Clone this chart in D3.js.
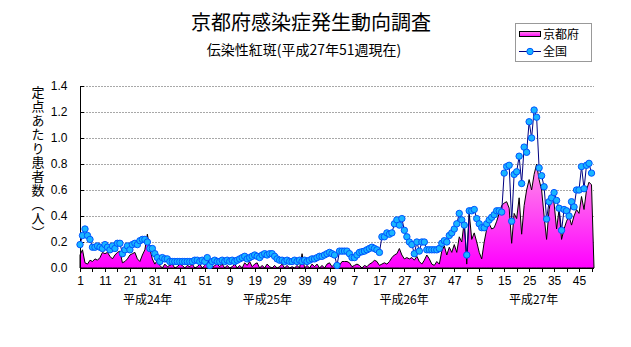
<!DOCTYPE html>
<html><head><meta charset="utf-8">
<script src="https://cdn.jsdelivr.net/npm/d3@7/dist/d3.min.js"></script>
<style>
html,body{margin:0;padding:0;background:#fff;}
svg{display:block;}
.jp{font-family:"Noto Sans CJK JP","Noto Sans",sans-serif;}
.num{font-family:"Liberation Sans Narrow","Liberation Sans",Arial,sans-serif;}
</style></head>
<body>
<script>
// ---- data ----
const yearLabels = ["平成24年","平成25年","平成26年","平成27年"];
const weeksPerYear = [52,52,52,51];
const tickLabels = ["1","11","21","31","41","51","9","19","29","39","49","7","17","27","37","47","5","15","25","35","45"];
const yTicks = [0.0,0.2,0.4,0.6,0.8,1.0,1.2,1.4];

const kyoto2012 = [0.10,0.14,0.04,0.03,0.06,0.05,0.07,0.06,0.08,0.12,0.11,0.12,0.09,0.07,0.10,0.12,0.13,0.04,0.05,0.07,0.10,0.11,0.12,0.07,0.05,0.10,0.14,0.26,0.15,0.07,0.03,0.06,0.02,0.00,0.03,0.01,0.02,0.03,0.00,0.01,0.03,0.02,0.00,0.02,0.01,0.03,0.00,0.01,0.03,0.00,0.02,0.04];
const kyoto2013 = [0.04,0.00,0.02,0.03,0.01,0.03,0.00,0.02,0.00,0.01,0.03,0.00,0.02,0.00,0.04,0.02,0.05,0.01,0.03,0.04,0.00,0.02,0.00,0.03,0.01,0.00,0.02,0.00,0.01,0.03,0.00,0.02,0.00,0.01,0.00,0.02,0.00,0.11,0.00,0.02,0.00,0.03,0.01,0.03,0.00,0.02,0.00,0.03,0.04,0.01,0.03,0.00];
const kyoto2014 = [0.02,0.05,0.05,0.05,0.04,0.01,0.02,0.03,0.02,0.00,0.02,0.01,0.03,0.04,0.06,0.05,0.02,0.03,0.04,0.03,0.05,0.08,0.10,0.11,0.15,0.10,0.07,0.08,0.07,0.08,0.06,0.09,0.05,0.03,0.06,0.10,0.07,0.03,0.02,0.05,0.03,0.13,0.17,0.10,0.16,0.12,0.18,0.12,0.24,0.20,0.36,0.03];
const kyoto2015 = [0.42,0.22,0.27,0.20,0.12,0.07,0.20,0.30,0.34,0.30,0.31,0.36,0.42,0.48,0.50,0.51,0.46,0.19,0.42,0.38,0.54,0.26,0.48,0.60,0.68,0.60,0.72,0.80,0.68,0.60,0.40,0.22,0.45,0.55,0.50,0.30,0.45,0.22,0.30,0.36,0.40,0.33,0.40,0.45,0.42,0.55,0.45,0.60,0.66,0.64,0.00];

const national2012 = [0.18,0.25,0.30,0.25,0.22,0.16,0.16,0.17,0.16,0.15,0.18,0.16,0.14,0.17,0.15,0.19,0.19,0.11,0.14,0.17,0.14,0.18,0.19,0.18,0.21,0.22,0.22,0.20,0.15,0.15,0.11,0.08,0.05,0.08,0.07,0.07,0.05,0.05,0.05,0.05,0.05,0.05,0.05,0.05,0.05,0.05,0.06,0.06,0.05,0.06,0.05,0.08];
const national2013 = [0.02,0.05,0.06,0.05,0.05,0.06,0.05,0.06,0.05,0.06,0.05,0.06,0.07,0.08,0.09,0.07,0.08,0.09,0.10,0.09,0.08,0.10,0.11,0.10,0.11,0.11,0.09,0.07,0.06,0.06,0.05,0.06,0.05,0.05,0.06,0.05,0.06,0.05,0.06,0.05,0.06,0.07,0.07,0.08,0.09,0.09,0.10,0.11,0.12,0.11,0.10,0.02];
const national2014 = [0.13,0.13,0.13,0.13,0.11,0.08,0.08,0.10,0.12,0.125,0.13,0.14,0.15,0.16,0.15,0.14,0.12,0.24,0.24,0.27,0.26,0.27,0.34,0.37,0.33,0.38,0.29,0.24,0.20,0.18,0.11,0.20,0.13,0.20,0.20,0.14,0.14,0.14,0.14,0.14,0.15,0.19,0.21,0.20,0.25,0.27,0.30,0.34,0.42,0.37,0.33,0.10];
const national2015 = [0.44,0.44,0.45,0.38,0.34,0.31,0.31,0.34,0.37,0.39,0.41,0.44,0.44,0.43,0.73,0.78,0.79,0.36,0.72,0.74,0.86,0.65,0.93,0.89,1.125,1.00,1.215,1.16,0.77,0.71,0.625,0.377,0.51,0.54,0.58,0.52,0.46,0.29,0.45,0.44,0.40,0.51,0.47,0.60,0.60,0.78,0.61,0.79,0.805,0.73];

const kyoto = [].concat(kyoto2012,kyoto2013,kyoto2014,kyoto2015);
const national = [].concat(national2012,national2013,national2014,national2015);

// category index list
const categories = [];
weeksPerYear.forEach((n,yi)=>{for(let w=1;w<=n;w++) categories.push({year:yi,week:w});});

// ---- layout ----
const W=631,H=347;
const svg=d3.select("body").append("svg").attr("width",W).attr("height",H);
const x=d3.scaleLinear().domain([0,categories.length-1]).range([80,594]);
const y=d3.scaleLinear().domain([0,1.4]).range([268,86]);

const defs=svg.append("defs");
const grad=defs.append("linearGradient").attr("id","pink").attr("gradientUnits","userSpaceOnUse")
  .attr("x1",0).attr("x2",0).attr("y1",y(0.8)).attr("y2",y(0));
grad.append("stop").attr("offset","0").attr("stop-color","#ff90e8");
grad.append("stop").attr("offset","1").attr("stop-color","#ff00ff");
const grad2=defs.append("linearGradient").attr("id","pinkL").attr("x1",0).attr("x2",0).attr("y1",0).attr("y2",1);
grad2.append("stop").attr("offset","0").attr("stop-color","#ff90e8");
grad2.append("stop").attr("offset","1").attr("stop-color","#ff00ff");

// gridlines
svg.append("g").selectAll("line").data(yTicks.filter(d=>d>0)).join("line")
  .attr("x1",80).attr("x2",594).attr("y1",d=>y(d)+0.5).attr("y2",d=>y(d)+0.5)
  .attr("stroke","#a8a8a8").attr("stroke-dasharray","2,1");

// kyoto area
const area=d3.area().x((d,i)=>x(i)).y0(y(0)).y1(d=>y(d));
svg.append("path").datum(kyoto).attr("d",area).attr("fill","url(#pink)")
  .attr("stroke","#000").attr("stroke-width",1).attr("stroke-linejoin","miter");

// y axis
const yAxis=d3.axisLeft(y).tickValues(yTicks).tickFormat(d3.format(".1f")).tickSize(0).tickPadding(13);
const gy=svg.append("g").attr("transform","translate(80.5,0)").call(yAxis);
gy.select(".domain").remove();
gy.selectAll("text").attr("class","num").attr("font-size",12).attr("fill","#000");
svg.append("line").attr("x1",80.5).attr("x2",80.5).attr("y1",86).attr("y2",268).attr("stroke","#000");
svg.append("g").selectAll("line").data(yTicks).join("line")
  .attr("x1",80).attr("x2",84).attr("y1",d=>y(d)+0.5).attr("y2",d=>y(d)+0.5).attr("stroke","#000");

// x axis
const tickIdx=d3.range(0,categories.length,10);
const xAxis=d3.axisBottom(x).tickValues(tickIdx).tickFormat((d,i)=>tickLabels[i]).tickSize(0).tickPadding(8);
const gx=svg.append("g").attr("transform","translate(0,268.5)").call(xAxis);
gx.select(".domain").remove();
gx.selectAll("text").attr("class","num").attr("font-size",12).attr("fill","#000");
svg.append("line").attr("x1",80).attr("x2",594).attr("y1",268.5).attr("y2",268.5).attr("stroke","#000");
svg.append("g").selectAll("line").data(d3.range(0,categories.length,5)).join("line")
  .attr("x1",d=>Math.round(x(d))+0.5).attr("x2",d=>Math.round(x(d))+0.5).attr("y1",268).attr("y2",272).attr("stroke","#000");

// year labels
const yearCenters=[];
let start=0;
weeksPerYear.forEach(n=>{yearCenters.push(start+(n-1)/2);start+=n;});
svg.append("g").selectAll("text").data(yearLabels).join("text")
  .attr("class","jp").attr("x",(d,i)=>x(yearCenters[i])+ (i===0?4:(i===1?-6:(i===2?1:2))))
  .attr("y",304).attr("text-anchor","middle").attr("font-size",12).text(d=>d);

// national line
const line=d3.line().x((d,i)=>x(i)).y(d=>y(d));
svg.append("path").datum(national).attr("d",line).attr("fill","none").attr("stroke","#000080").attr("stroke-width",1);
svg.append("g").selectAll("circle").data(national).join("circle")
  .attr("cx",(d,i)=>x(i)).attr("cy",d=>y(d)).attr("r",3.2)
  .attr("fill","#19b5ff").attr("stroke","#0055ff").attr("stroke-width",1);

// titles
svg.append("text").attr("class","jp").attr("x",311).attr("y",30).attr("text-anchor","middle")
  .attr("font-size",20).text("京都府感染症発生動向調査");
svg.append("text").attr("class","jp").attr("x",304).attr("y",55).attr("text-anchor","middle")
  .attr("font-size",14).text("伝染性紅斑(平成27年51週現在)");

// y label vertical
svg.append("text").attr("class","jp").attr("x",38).attr("y",86)
  .attr("font-size",13).style("writing-mode","vertical-rl").attr("letter-spacing",1)
  .text("定点あたり患者数（人）");

// legend
const lg=svg.append("g");
lg.append("rect").attr("x",515.5).attr("y",23.5).attr("width",76).attr("height",38).attr("fill","#fff").attr("stroke","#999");
lg.append("rect").attr("x",519.5).attr("y",31.5).attr("width",21).attr("height",5).attr("fill","url(#pinkL)").attr("stroke","#000");
lg.append("text").attr("class","jp").attr("x",543).attr("y",38.5).attr("font-size",12).text("京都府");
lg.append("line").attr("x1",519).attr("x2",541).attr("y1",51.5).attr("y2",51.5).attr("stroke","#000080");
lg.append("circle").attr("cx",530).attr("cy",51.5).attr("r",3.2).attr("fill","#19b5ff").attr("stroke","#0055ff");
lg.append("text").attr("class","jp").attr("x",543).attr("y",56).attr("font-size",12).text("全国");
</script>
</body></html>
